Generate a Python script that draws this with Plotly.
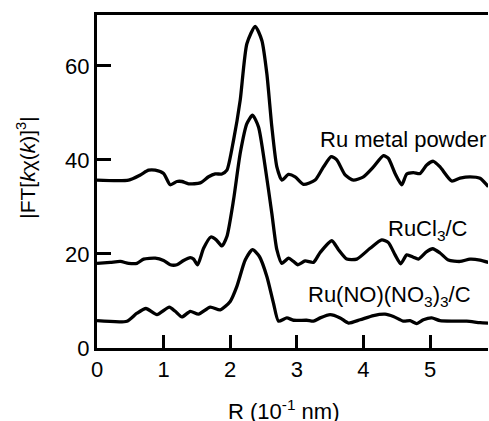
import plotly.graph_objects as go

# Ru metal powder
ru_x = [0, 0.475, 0.65, 0.775, 0.875, 1.0, 1.1, 1.2, 1.275, 1.375, 1.55, 1.675, 1.775, 1.875, 1.95,
        2.05, 2.15, 2.25, 2.375, 2.475, 2.55, 2.625, 2.7, 2.775, 2.875, 2.975, 3.1, 3.275, 3.4, 3.515,
        3.6, 3.725, 3.85, 4.0, 4.15, 4.3, 4.375, 4.475, 4.575, 4.65, 4.75, 4.85, 4.95, 5.05, 5.15,
        5.325, 5.45, 5.6, 5.75, 5.875]
ru_y = [35.7, 35.7, 36.8, 37.8, 37.8, 37.1, 34.7, 35.4, 35.4, 34.9, 35.1, 36.4, 37.0, 37.0, 37.8,
        44.2, 52.7, 64.7, 68.4, 65.4, 58.3, 47.0, 38.5, 35.7, 36.9, 36.4, 34.8, 35.7, 38.5, 40.7,
        40.0, 36.8, 35.7, 36.4, 38.5, 40.9, 40.3, 37.1, 34.7, 37.0, 37.3, 37.1, 38.9, 39.7, 38.5,
        35.5, 36.1, 36.4, 36.1, 34.3]

# RuCl3/C
cl_x = [0, 0.2, 0.35, 0.475, 0.6, 0.7, 0.875, 1.0, 1.1, 1.2, 1.3, 1.4, 1.45, 1.51, 1.6, 1.71, 1.79,
        1.875, 1.95, 2.05, 2.15, 2.25, 2.335, 2.425, 2.525, 2.625, 2.7, 2.775, 2.875, 2.95, 3.015,
        3.125, 3.25, 3.35, 3.525, 3.625, 3.75, 3.9, 4.1, 4.275, 4.375, 4.475, 4.56, 4.65, 4.75,
        4.825, 4.95, 5.04, 5.15, 5.275, 5.45, 5.6, 5.75, 5.875]
cl_y = [18.0, 18.2, 18.4, 18.0, 18.0, 18.9, 19.1, 18.6, 17.7, 17.7, 18.6, 19.2, 18.9, 17.7, 21.2,
        23.6, 23.0, 21.7, 23.7, 31.5, 41.4, 47.7, 49.5, 47.0, 38.5, 28.6, 20.9, 18.0, 19.1, 18.4,
        17.7, 18.5, 18.2, 20.3, 22.8, 20.9, 18.9, 18.9, 21.2, 23.0, 22.4, 19.8, 17.9, 19.8, 19.3,
        18.9, 20.5, 21.1, 20.2, 18.7, 18.4, 18.9, 18.7, 18.2]

# Ru(NO)(NO3)3/C
no_x = [0, 0.45, 0.6, 0.735, 0.9, 1.085, 1.175, 1.275, 1.4, 1.525, 1.7, 1.85, 2.0, 2.1, 2.225,
        2.335, 2.44, 2.55, 2.65, 2.725, 2.85, 2.95, 3.15, 3.25, 3.35, 3.5, 3.65, 3.775, 3.95, 4.15,
        4.325, 4.45, 4.6, 4.7, 4.8, 4.9, 5.025, 5.15, 5.35, 5.55, 5.75, 5.875]
no_y = [5.8, 5.7, 7.4, 8.4, 7.1, 8.7, 7.8, 6.6, 7.8, 7.2, 8.7, 8.1, 9.9, 13.1, 18.7,
        20.9, 19.4, 15.2, 9.5, 5.7, 6.4, 5.9, 5.9, 5.7, 6.4, 7.1, 6.4, 5.3, 6.0, 6.9,
        7.2, 6.7, 5.7, 5.8, 5.2, 6.0, 6.4, 5.8, 5.7, 5.7, 5.4, 5.3]

x_ticks = [0, 1, 2, 3, 4, 5]
y_ticks = [0, 20, 40, 60]

FONT = "Liberation Sans, Arial, Helvetica, sans-serif"

fig = go.Figure()
for xs, ys in [(ru_x, ru_y), (cl_x, cl_y), (no_x, no_y)]:
    fig.add_trace(go.Scatter(x=xs, y=ys, mode="lines",
                             line=dict(color="black", width=3.3, shape="spline", smoothing=0.6),
                             showlegend=False, hoverinfo="skip"))

fig.update_layout(
    width=489, height=421,
    margin=dict(l=97, r=1, t=15, b=73),
    paper_bgcolor="white", plot_bgcolor="white",
    font=dict(family=FONT, size=22, color="black"),
    showlegend=False,
)
fig.update_xaxes(range=[0, 5.87], tickvals=x_ticks, ticks="inside", ticklen=13, tickwidth=2.5,
                 tickcolor="black", showline=True, linewidth=3, linecolor="black", mirror=True,
                 showgrid=False, zeroline=False, tickfont=dict(size=22))
fig.update_yaxes(range=[0, 70.8], tickvals=y_ticks, ticks="inside", ticklen=14, tickwidth=2.5,
                 tickcolor="black", showline=True, linewidth=3, linecolor="black",
                 showgrid=False, zeroline=False, tickfont=dict(size=22))

# x-axis title
fig.add_annotation(x=0.476, xref="paper", y=-0.186, yref="paper",
                   text="R (10<sup>-1</sup> nm)", showarrow=False,
                   font=dict(size=22), xanchor="center", yanchor="middle")

# y-axis title
fig.add_annotation(x=-0.18, xref="paper", y=0.54, yref="paper", textangle=-90,
                   text="|FT[<i>k</i>χ(<i>k</i>)]<sup>3</sup>|", showarrow=False,
                   font=dict(size=21), xanchor="center", yanchor="middle")

fig.add_annotation(x=5.87, y=44.4, xanchor="right", yanchor="middle",
                   text="Ru metal powder", showarrow=False, font=dict(size=22))
fig.add_annotation(x=5.6, y=25.0, xanchor="right", yanchor="middle",
                   text="RuCl<sub>3</sub>/C", showarrow=False, font=dict(size=22))
fig.add_annotation(x=5.65, y=11.0, xanchor="right", yanchor="middle",
                   text="Ru(NO)(NO<sub>3</sub>)<sub>3</sub>/C", showarrow=False, font=dict(size=22))

fig.write_html("out.html", config={"displayModeBar": False},
               post_script="document.body.style.margin='0px';")
